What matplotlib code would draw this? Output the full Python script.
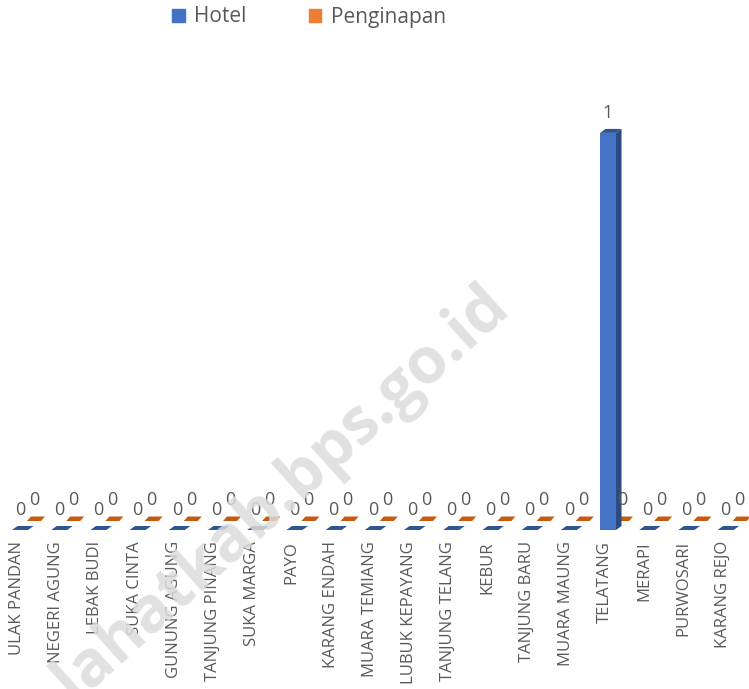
import matplotlib.pyplot as plt
from matplotlib.patches import Polygon, Patch

desa = ["ULAK PANDAN", "NEGERI AGUNG", "LEBAK BUDI", "SUKA CINTA", "GUNUNG AGUNG",
        "TANJUNG PINANG", "SUKA MARGA", "PAYO", "KARANG ENDAH", "MUARA TEMIANG",
        "LUBUK KEPAYANG", "TANJUNG TELANG", "KEBUR", "TANJUNG BARU", "MUARA MAUNG",
        "TELATANG", "MERAPI", "PURWOSARI", "KARANG REJO"]
hotel = [0, 0, 0, 0, 0, 0, 0, 0, 0, 0, 0, 0, 0, 0, 0, 1, 0, 0, 0]
penginapan = [0, 0, 0, 0, 0, 0, 0, 0, 0, 0, 0, 0, 0, 0, 0, 0, 0, 0, 0]

plt.rcParams['font.family'] = ['Open Sans', 'DejaVu Sans']
abu = '#595959'

fig = plt.figure(figsize=(7.49, 6.89), dpi=100)
ax = fig.add_axes([0, 159 / 689, 1, 490 / 689])
ax.set_xlim(-0.434, 18.673)
ax.set_ylim(0, 1.234)
for s in ax.spines.values():
    s.set_visible(False)
ax.set_yticks([])

# pixel -> data, supaya efek 3D bisa diatur dalam piksel
p0 = ax.transData.transform((0, 0))
p1 = ax.transData.transform((1, 1))
sx = p1[0] - p0[0]
sy = p1[1] - p0[1]


def balok(x_px, lebar_px, h, base_px, dalam, c_depan, c_samping, c_atas, z):
    x0 = x_px / sx
    x1 = (x_px + lebar_px) / sx
    b = base_px / sy
    ddx, ddy = dalam[0] / sx, dalam[1] / sy
    top = b + h
    if h > 0:
        ax.add_patch(Polygon([(x0, b), (x1, b), (x1, top), (x0, top)],
                             closed=True, fc=c_depan, ec='none', zorder=z))
        ax.add_patch(Polygon([(x1, b), (x1 + ddx, b + ddy), (x1 + ddx, top + ddy), (x1, top)],
                             closed=True, fc=c_samping, ec='none', zorder=z))
    ax.add_patch(Polygon([(x0, top), (x1, top), (x1 + ddx, top + ddy), (x0 + ddx, top + ddy)],
                         closed=True, fc=c_atas, ec='none', zorder=z))


for i in range(len(desa)):
    xi = i * sx
    # penginapan (di belakang)
    balok(xi + 10, 14, penginapan[i], 9, (4, 4.5), '#ED7D31', '#AE5A21', '#C55A11', 2)
    ax.text((xi + 17) / sx, penginapan[i] + 30 / sy, str(penginapan[i]),
            ha='center', va='center', fontsize=13, color=abu, zorder=6)
    # hotel (di depan)
    balok(xi - 5, 16, hotel[i], 0, (5.5, 4), '#4472C4', '#2B4A80', '#2F5597', 3)
    ax.text((xi + 3) / sx, hotel[i] + 20 / sy, str(hotel[i]),
            ha='center', va='center', fontsize=13, color=abu, zorder=6)

ax.set_xticks(range(len(desa)))
ax.set_xticklabels(desa, rotation=90, fontsize=12, color=abu)
ax.tick_params(axis='x', length=0, pad=8)

h1 = Patch(color='#4472C4', label='Hotel')
h2 = Patch(color='#ED7D31', label='Penginapan')
leg = fig.legend(handles=[h1, h2], loc='center', bbox_to_anchor=(309 / 749, 1 - 17 / 689),
                 ncol=2, frameon=False, fontsize=15, handlelength=0.6, handleheight=0.6,
                 handletextpad=0.45, columnspacing=3.0)
for t in leg.get_texts():
    t.set_color(abu)

# watermark, memang terpotong di tepi kiri bawah seperti aslinya
fig.text(282 / 749, 1 - 493 / 689, 'lahatkab.bps.go.id', rotation=42, ha='center', va='center',
         fontsize=46, fontweight='bold', color='#dcdcdc', alpha=0.85, zorder=10)

fig.savefig('out.png', dpi=100)
